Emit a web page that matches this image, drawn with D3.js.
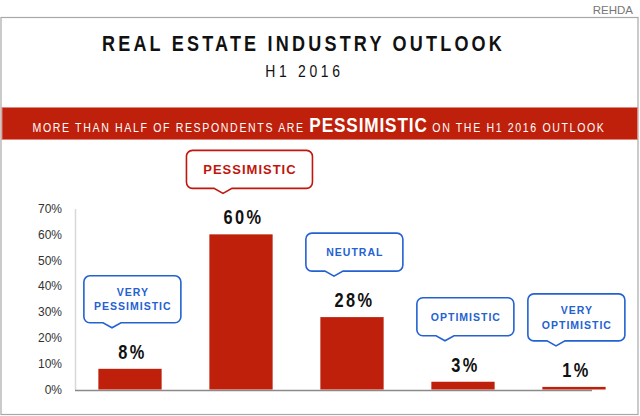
<!DOCTYPE html>
<html>
<head>
<meta charset="utf-8">
<script src="https://cdn.jsdelivr.net/npm/d3@7"></script>
<style>
  html, body { margin: 0; padding: 0; background: #fff; }
  svg { display: block; }
</style>
</head>
<body>
<svg id="chart" width="640" height="416"></svg>
<script>
// ---- data ----
const categories = ["VERY PESSIMISTIC", "PESSIMISTIC", "NEUTRAL", "OPTIMISTIC", "VERY OPTIMISTIC"];
const calloutLines = [["VERY", "PESSIMISTIC"], ["PESSIMISTIC"], ["NEUTRAL"], ["OPTIMISTIC"], ["VERY", "OPTIMISTIC"]];
const values = [8, 60, 28, 3, 1];
const yTicks = [0, 10, 20, 30, 40, 50, 60, 70];
const highlighted = "PESSIMISTIC";
const titleText = "REAL ESTATE INDUSTRY OUTLOOK";
const subtitleText = "H1 2016";
const bannerParts = ["MORE THAN HALF OF RESPONDENTS ARE ", "PESSIMISTIC", " ON THE H1 2016 OUTLOOK"];
const sourceText = "REHDA";

// ---- styles ----
const RED = "#BF200B";
const BLUE = "#2462D2";
const SANS = "'Liberation Sans', Arial, sans-serif";

const svg = d3.select("#chart");

// condensed text helper (horizontal squeeze of Liberation Sans)
function squeezed(parent, cx, cy, sx) {
  return parent.append("g").attr("transform", `translate(${cx},${cy}) scale(${sx},1)`)
    .append("text").attr("x", 0).attr("y", 0).attr("font-family", SANS);
}

// source label
svg.append("text").attr("x", 633).attr("y", 13.5).attr("text-anchor", "end")
  .attr("font-family", SANS).attr("font-size", 11.5).attr("fill", "#777").text(sourceText);

// frame
svg.append("rect").attr("x", 1).attr("y", 17.5).attr("width", 637).attr("height", 397)
  .attr("fill", "#fff").attr("stroke", "#a8a8a8").attr("stroke-width", 1.2);

// title
squeezed(svg, 303.5, 51, 0.82).attr("text-anchor", "middle").attr("font-weight", "bold")
  .attr("font-size", 22).attr("letter-spacing", 3.9).attr("fill", "#111").text(titleText);
squeezed(svg, 304.5, 77.3, 0.82).attr("text-anchor", "middle")
  .attr("font-size", 17).attr("letter-spacing", 4.5).attr("fill", "#111").text(subtitleText);

// banner
svg.append("rect").attr("x", 2).attr("y", 107.5).attr("width", 635.5).attr("height", 32)
  .attr("fill", RED).attr("stroke", "#E2857A").attr("stroke-width", 1);
const bt = squeezed(svg, 319, 131.7, 0.86).attr("text-anchor", "middle").attr("fill", "#fff");
bannerParts.forEach((p) => {
  const hi = p === highlighted;
  bt.append("tspan").attr("font-size", hi ? 20 : 12.3)
    .attr("font-weight", hi ? "bold" : "normal")
    .attr("letter-spacing", hi ? 1 : 1.9)
    .style("white-space", "pre")
    .text(p);
});

// scales
const y = d3.scaleLinear().domain([0, 70]).range([389.5, 208.5]);
const x = d3.scaleBand().domain(categories).range([74.5, 629.5]).paddingInner(0.43).paddingOuter(0.215);

// y axis
const yAxis = svg.append("g").attr("transform", "translate(75,0)")
  .call(d3.axisLeft(y).tickValues(yTicks).tickSize(0).tickPadding(13).tickFormat(d => d + "%"));
yAxis.select(".domain").attr("stroke", "#d8d8d8").attr("stroke-width", 1.5);
yAxis.selectAll("text").attr("font-family", SANS).attr("font-size", 12).attr("fill", "#333");

// x axis line
svg.append("line").attr("x1", 75).attr("x2", 592).attr("y1", 390.5).attr("y2", 390.5)
  .attr("stroke", "#8a8a8a").attr("stroke-width", 1.5);

// bars
svg.selectAll("rect.bar").data(categories).enter().append("rect").attr("class", "bar")
  .attr("x", d => x(d)).attr("width", x.bandwidth())
  .attr("y", (d, i) => y(values[i])).attr("height", (d, i) => y(0) - y(values[i]))
  .attr("fill", RED);

// value labels
const labelBase = (i) => y(values[i]) - 10;
categories.forEach((c, i) => {
  squeezed(svg, x(c) + x.bandwidth() / 2 + 2.5, labelBase(i), 0.82)
    .attr("text-anchor", "middle").attr("font-weight", "bold")
    .attr("font-size", 20).attr("letter-spacing", 3).attr("fill", "#111")
    .text(values[i] + "%");
});

// callouts
function calloutPath(x0, y0, w, h, r, tipX, half, depth) {
  return `M${x0 + r},${y0} H${x0 + w - r} A${r},${r} 0 0 1 ${x0 + w},${y0 + r} V${y0 + h - r}` +
    ` A${r},${r} 0 0 1 ${x0 + w - r},${y0 + h} H${tipX + half} L${tipX},${y0 + h + depth}` +
    ` L${tipX - half},${y0 + h} H${x0 + r} A${r},${r} 0 0 1 ${x0},${y0 + h - r} V${y0 + r}` +
    ` A${r},${r} 0 0 1 ${x0 + r},${y0} Z`;
}
categories.forEach((c, i) => {
  const hi = c === highlighted;
  const col = hi ? "#C2150C" : BLUE;
  const lines = calloutLines[i];
  const w = hi ? 126 : 97;
  const h = lines.length > 1 ? 47 : 38;
  const depth = 5;
  const tipX = x(c) + x.bandwidth() / 2 - 18;
  const tipY = labelBase(i) - 31;
  const x0 = tipX - 0.29 * w;
  const y0 = tipY - depth - h;
  const g = svg.append("g");
  g.append("path").attr("d", calloutPath(x0, y0, w, h, 6, tipX, 9, depth))
    .attr("fill", "#fff").attr("stroke", col).attr("stroke-width", 1.6);
  const fs = hi ? 13 : 10.5;
  const lh = 14.7;
  const cy = y0 + h / 2;
  lines.forEach((ln, k) => {
    g.append("text").attr("x", x0 + w / 2 + 0.5).attr("y", cy + (k - (lines.length - 1) / 2) * lh + fs * 0.36)
      .attr("text-anchor", "middle").attr("font-family", SANS).attr("font-weight", "bold")
      .attr("font-size", fs).attr("letter-spacing", 1).attr("fill", col).text(ln);
  });
});
</script>
</body>
</html>
